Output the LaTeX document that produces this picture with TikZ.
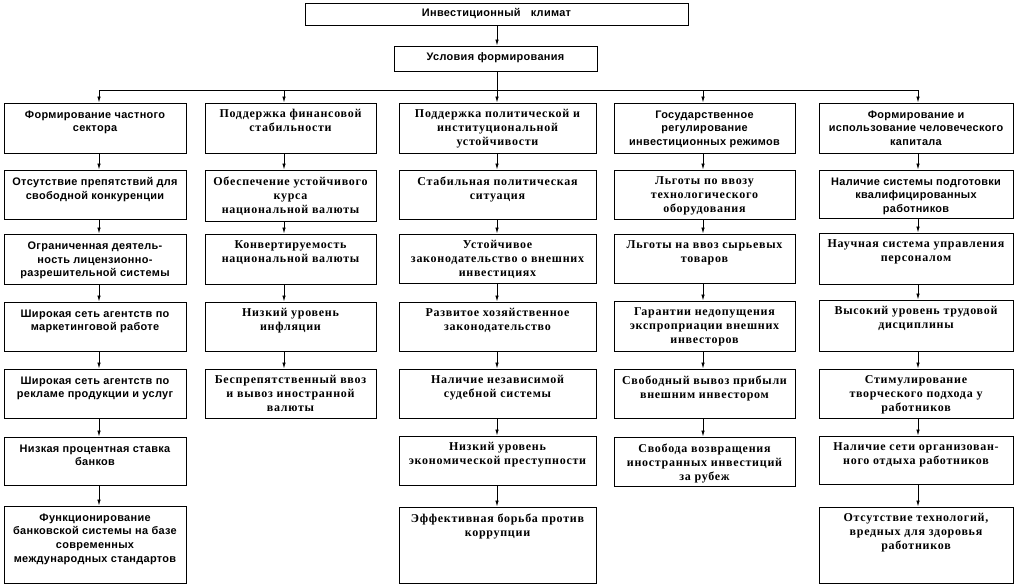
\documentclass[tikz,border=0pt]{standalone}
\usepackage{fontspec}
\setmainfont{Liberation Serif}[LetterSpace=6]
\newfontfamily\sansfam{Liberation Sans}[LetterSpace=3]
\usetikzlibrary{arrows.meta,fit}
\tikzset{
  boxst/.style={draw, line width=0.7pt, inner sep=0pt},
  sertxt/.style={font=\fontsize{9}{10.5}\selectfont\bfseries, align=center, inner sep=0pt},
  sanstxt/.style={font=\sansfam\fontsize{8.2}{10.2}\selectfont\bfseries, align=center, inner sep=0pt, yshift=-1pt},
  arr/.style={line width=0.6pt, -{Latex[length=4.5pt,width=2.6pt]}},
  ln/.style={line width=0.7pt},
}
\newcommand\mkbox[7]{%
  \node[boxst, fit={(#3,#5) (#4,#6)}] (#1) {};
  \node[#2, anchor=north] (#1t) at ([yshift=-5pt]#1.north) {#7};
}
\begin{document}
\begin{tikzpicture}[x=0.75pt,y=-0.75pt]
\fill[white] (0,0) rectangle (1018,587);
\useasboundingbox (0,0) rectangle (1018,587);
% column axes
\coordinate (x1) at (99,90);
\coordinate (x2) at (284,90);
\coordinate (x3) at (497,90);
\coordinate (x4) at (703,90);
\coordinate (x5) at (918,90);
% top
\node[boxst, fit={(305,3) (688,25)}] (top) {};
\node[sanstxt, yshift=1pt] (topt) at (top.center) {Инвестиционный\ \ \ климат};
\node[boxst, fit={(394,46) (597,71)}] (cond) {};
\node[sanstxt, yshift=2pt] (condt) at (cond.center) {Условия формирования};
\draw[arr] (top.south -| x3) -- (cond.north -| x3);
\draw[ln] (cond.south -| x3) -- (x3);
\draw[ln] (x1) -- (x5);
% column 1
\mkbox{c1r1}{sanstxt}{4}{186}{103}{153}{Формирование частного\\сектора}
\mkbox{c1r2}{sanstxt}{4}{186}{170}{219}{Отсутствие препятствий для\\свободной конкуренции}
\mkbox{c1r3}{sanstxt}{4}{186}{234}{284}{Ограниченная деятель-\\ность лицензионно-\\разрешительной системы}
\mkbox{c1r4}{sanstxt}{4}{186}{302}{351}{Широкая сеть агентств по\\маркетинговой работе}
\mkbox{c1r5}{sanstxt}{4}{186}{369}{418}{Широкая сеть агентств по\\рекламе продукции и услуг}
\mkbox{c1r6}{sanstxt}{4}{186}{437}{485}{Низкая процентная ставка\\банков}
\mkbox{c1r7}{sanstxt}{4}{186}{506}{583}{Функционирование\\банковской системы на базе\\современных\\международных стандартов}
% column 2
\mkbox{c2r1}{sertxt}{205}{376}{103}{153}{Поддержка финансовой\\стабильности}
\mkbox{c2r2}{sertxt}{205}{376}{170}{221}{Обеспечение устойчивого\\курса\\национальной валюты}
\mkbox{c2r3}{sertxt}{205}{376}{234}{284}{Конвертируемость\\национальной валюты}
\mkbox{c2r4}{sertxt}{205}{376}{302}{351}{Низкий уровень\\инфляции}
\mkbox{c2r5}{sertxt}{205}{376}{369}{418}{Беспрепятственный ввоз\\и вывоз иностранной\\валюты}
% column 3
\mkbox{c3r1}{sertxt}{399}{596}{103}{153}{Поддержка политической и\\институциональной\\устойчивости}
\mkbox{c3r2}{sertxt}{399}{596}{170}{219}{Стабильная политическая\\ситуация}
\mkbox{c3r3}{sertxt}{399}{596}{234}{283}{Устойчивое\\законодательство о внешних\\инвестициях}
\mkbox{c3r4}{sertxt}{399}{596}{302}{351}{Развитое хозяйственное\\законодательство}
\mkbox{c3r5}{sertxt}{399}{596}{369}{418}{Наличие независимой\\судебной системы}
\mkbox{c3r6}{sertxt}{399}{596}{436}{485}{Низкий уровень\\экономической преступности}
\mkbox{c3r7}{sertxt}{399}{596}{507}{583}{Эффективная борьба против\\коррупции}
% column 4
\mkbox{c4r1}{sanstxt}{614}{795}{103}{153}{Государственное\\регулирование\\инвестиционных режимов}
\mkbox{c4r2}{sertxt}{614}{795}{170}{219}{Льготы по ввозу\\технологического\\оборудования}
\mkbox{c4r3}{sertxt}{614}{795}{234}{283}{Льготы на ввоз сырьевых\\товаров}
\mkbox{c4r4}{sertxt}{614}{795}{301}{351}{Гарантии недопущения\\экспроприации внешних\\инвесторов}
\mkbox{c4r5}{sertxt}{614}{795}{369}{418}{Свободный вывоз прибыли\\внешним инвестором}
\mkbox{c4r6}{sertxt}{614}{795}{437}{486}{Свобода возвращения\\иностранных инвестиций\\за рубеж}
% column 5
\mkbox{c5r1}{sanstxt}{819}{1013}{103}{153}{Формирование и\\использование человеческого\\капитала}
\mkbox{c5r2}{sanstxt}{819}{1013}{170}{218}{Наличие системы подготовки\\квалифицированных\\работников}
\mkbox{c5r3}{sertxt}{819}{1013}{233}{284}{Научная система управления\\персоналом}
\mkbox{c5r4}{sertxt}{819}{1013}{300}{351}{Высокий уровень трудовой\\дисциплины}
\mkbox{c5r5}{sertxt}{819}{1013}{369}{418}{Стимулирование\\творческого подхода у\\работников}
\mkbox{c5r6}{sertxt}{819}{1013}{436}{484}{Наличие сети организован-\\ного отдыха работников}
\mkbox{c5r7}{sertxt}{819}{1013}{507}{583}{Отсутствие технологий,\\вредных для здоровья\\работников}
% bus arrows
\draw[arr] (x1) -- (c1r1.north -| x1);
\draw[arr] (x2) -- (c2r1.north -| x2);
\draw[arr] (x3) -- (c3r1.north -| x3);
\draw[arr] (x4) -- (c4r1.north -| x4);
\draw[arr] (x5) -- (c5r1.north -| x5);
% column arrows
\foreach \c/\n in {1/7,2/5,3/7,4/6,5/7}{
  \foreach \r [evaluate=\r as \s using int(\r+1)] in {1,...,\numexpr\n-1\relax}{
    \draw[arr] (c\c r\r.south -| x\c) -- (c\c r\s.north -| x\c);
  }
}
\end{tikzpicture}
\end{document}
